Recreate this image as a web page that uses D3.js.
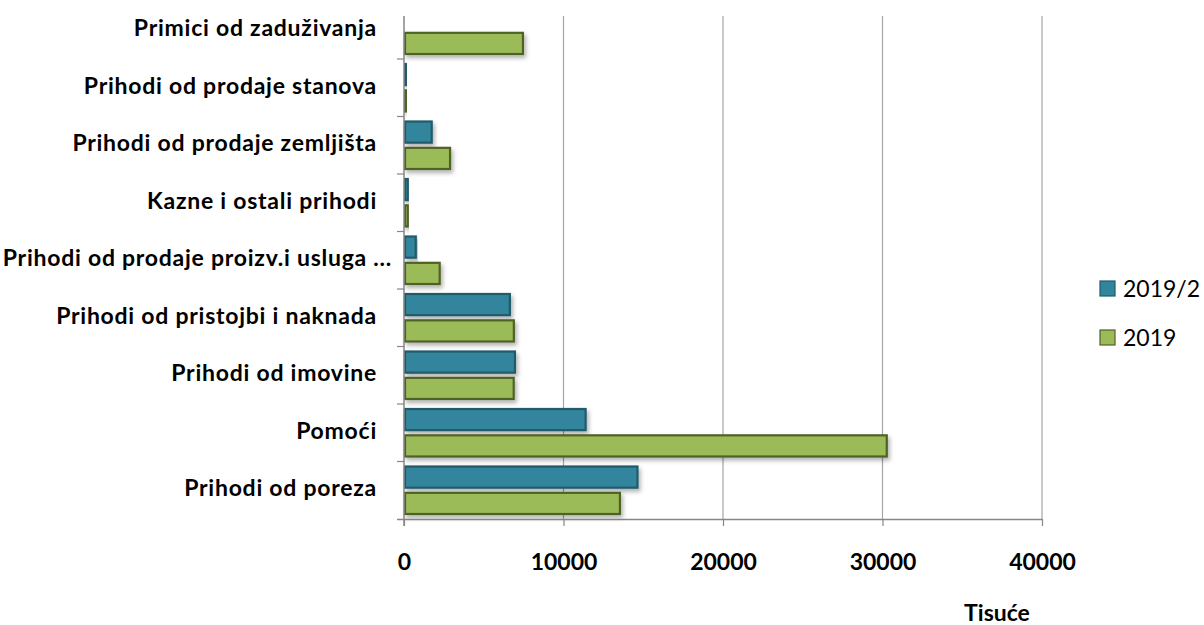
<!DOCTYPE html>
<html>
<head>
<meta charset="utf-8">
<script src="https://cdn.jsdelivr.net/npm/d3@7/dist/d3.min.js"></script>
<style>
  body { margin: 0; background: #fff; }
  svg { display: block; }
  text { font-family: Lato, "Open Sans", sans-serif; fill: #000; }
</style>
</head>
<body>
<div id="chart"></div>
<script>
// categories from top to bottom, as in the picture
const categories = [
  'Primici od zaduživanja',
  'Prihodi od prodaje stanova',
  'Prihodi od prodaje zemljišta',
  'Kazne i ostali prihodi',
  'Prihodi od prodaje proizv.i usluga ...',
  'Prihodi od pristojbi i naknada',
  'Prihodi od imovine',
  'Pomoći',
  'Prihodi od poreza'
]
const seriesNames = ['2019/2', '2019']
const values2019_2 = [0, 150, 1800, 300, 800, 6700, 7020, 11450, 14700]
const values2019 = [7520, 150, 2950, 300, 2300, 6950, 6940, 30330, 13600]
const xTicks = [0, 10000, 20000, 30000, 40000]
const axisTitle = 'Tisuće'

const colors = {
  '2019/2': { fill: '#31859c', stroke: '#215a69' },
  '2019': { fill: '#9bbb59', stroke: '#4f6228' }
}

const width = 1204, height = 625
const margin = { top: 1.5, right: 162, bottom: 106, left: 404 }

const svg = d3.select('#chart').append('svg')
  .attr('width', width)
  .attr('height', height)

const defs = svg.append('defs')
const shadow = defs.append('filter').attr('id', 'shadow')
  .attr('x', '-10%').attr('y', '-30%').attr('width', '130%').attr('height', '180%')
shadow.append('feDropShadow')
  .attr('dx', 2).attr('dy', 3).attr('stdDeviation', 2)
  .attr('flood-color', '#000').attr('flood-opacity', 0.3)

const x = d3.scaleLinear()
  .domain([0, 40000])
  .range([margin.left, 1042])

const y = d3.scaleBand()
  .domain(categories)
  .range([margin.top, height - margin.bottom])

const ySub = d3.scaleBand()
  .domain(seriesNames)
  .range([4, y.bandwidth() - 4])
  .paddingInner(0.12)

const plotTop = 16
const plotBottom = 519

// gridlines
svg.append('g')
  .selectAll('line')
  .data(xTicks.slice(1))
  .join('line')
  .attr('x1', d => x(d)).attr('x2', d => x(d))
  .attr('y1', plotTop).attr('y2', plotBottom)
  .attr('stroke', '#a6a6a6')
  .attr('stroke-width', 1.2)

// bars
const rows = categories.map((c, i) => ({
  cat: c,
  vals: [
    { key: '2019/2', v: values2019_2[i] },
    { key: '2019', v: values2019[i] }
  ]
}))

const groups = svg.append('g').selectAll('g')
  .data(rows)
  .join('g')
  .attr('transform', d => `translate(0,${y(d.cat)})`)

groups.selectAll('rect')
  .data(d => d.vals.filter(b => b.v > 0))
  .join('rect')
  .attr('x', x(0) + 1)
  .attr('y', d => ySub(d.key) + 1)
  .attr('width', d => Math.max(x(d.v) - x(0) - 2, 1))
  .attr('height', ySub.bandwidth() - 2)
  .attr('fill', d => colors[d.key].fill)
  .attr('stroke', d => colors[d.key].stroke)
  .attr('stroke-width', 2.2)
  .attr('filter', 'url(#shadow)')

// x axis
const xAxis = svg.append('g')
  .attr('transform', `translate(0,${plotBottom})`)
  .call(d3.axisBottom(x).tickValues(xTicks).tickSize(7).tickPadding(28).tickFormat(d3.format('d')))
xAxis.select('.domain').attr('stroke', '#868686').attr('stroke-width', 1.5)
  .attr('d', `M${x(0) - 7},0.5H${x(40000)}`)
xAxis.selectAll('.tick line').attr('stroke', '#868686').attr('stroke-width', 1.2)
xAxis.selectAll('.tick text')
  .style('font-size', '23px')
  .style('font-weight', 'bold')
  .style('font-family', 'Lato, sans-serif')
  .attr('fill', '#000')

// y axis
const yAxis = svg.append('g')
  .attr('transform', `translate(${x(0)},0)`)
yAxis.append('line')
  .attr('x1', 0).attr('x2', 0)
  .attr('y1', plotTop).attr('y2', plotBottom + 7)
  .attr('stroke', '#868686').attr('stroke-width', 1.5)
yAxis.selectAll('line.tk')
  .data(categories.slice(1))
  .join('line')
  .attr('class', 'tk')
  .attr('x1', -7).attr('x2', 0)
  .attr('y1', d => y(d)).attr('y2', d => y(d))
  .attr('stroke', '#868686').attr('stroke-width', 1.2)

// category labels
svg.append('g').selectAll('text')
  .data(categories)
  .join('text')
  .attr('x', d => d.endsWith('...') ? 392 : 377)
  .attr('y', d => y(d) + y.bandwidth() / 2 + 6)
  .attr('text-anchor', 'end')
  .style('font-size', '23px')
  .style('font-weight', 'bold')
  .style('letter-spacing', '0.75px')
  .text(d => d)

// axis title
svg.append('text')
  .attr('x', 997)
  .attr('y', 621)
  .attr('text-anchor', 'middle')
  .style('font-size', '23px')
  .style('font-weight', 'bold')
  .text(axisTitle)

// legend
const legend = svg.append('g').attr('transform', 'translate(1100,0)')
const legendY = [289, 338]
seriesNames.forEach((s, i) => {
  legend.append('rect')
    .attr('x', 0).attr('y', legendY[i] - 8)
    .attr('width', 15).attr('height', 15)
    .attr('fill', colors[s].fill)
    .attr('stroke', colors[s].stroke)
    .attr('stroke-width', 1.2)
  legend.append('text')
    .attr('x', 23).attr('y', legendY[i] + 8)
    .style('font-size', '23px')
    .text(s)
})
</script>
</body>
</html>
